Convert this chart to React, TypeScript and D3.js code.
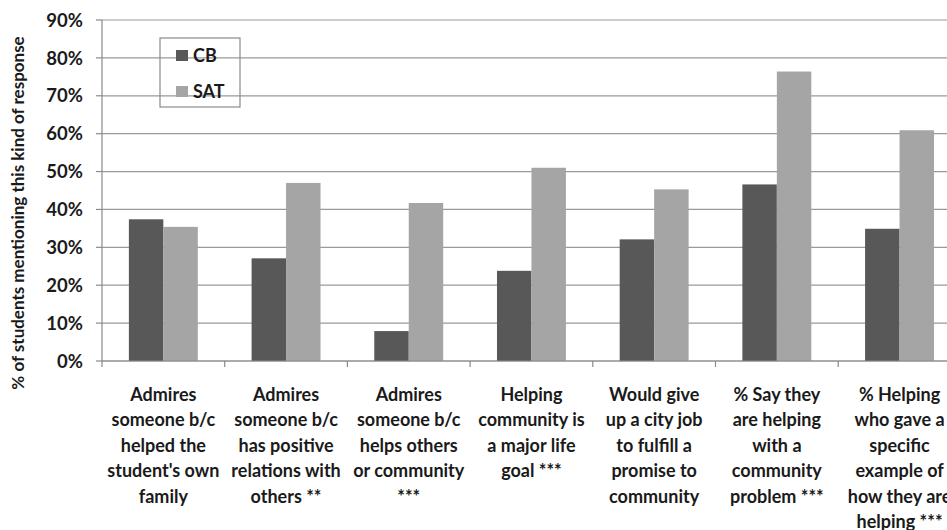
import React from "react";
import * as d3 from "d3";

const categories: string[][] = [
  ["Admires", "someone b/c", "helped the", "student's own", "family"],
  ["Admires", "someone b/c", "has positive", "relations with", "others **"],
  ["Admires", "someone b/c", "helps others", "or community", "***"],
  ["Helping", "community is", "a major life", "goal ***"],
  ["Would give", "up a city job", "to fulfill a", "promise to", "community"],
  ["% Say they", "are helping", "with a", "community", "problem ***"],
  ["% Helping", "who gave a", "specific", "example of", "how they are", "helping ***"],
];
const seriesNames = ["CB", "SAT"];
const cbValues = [37.4, 27.1, 7.9, 23.8, 32.1, 46.6, 34.9];
const satValues = [35.4, 47.0, 41.7, 51.0, 45.3, 76.4, 60.9];
const yTicks = [0, 10, 20, 30, 40, 50, 60, 70, 80, 90];
const colors = ["#585858", "#a5a5a5"];

const W = 947;
const H = 530;
const FONT = "Lato, 'Open Sans', sans-serif";

export default function App() {
  const left = 102;
  const step = 122.7;
  const right = left + step * categories.length;
  const top = 20;
  const bottom = 361;

  const idx = categories.map((_, i) => String(i));
  const x0 = d3.scaleBand().domain(idx).range([left, right]).padding(0);
  const x1 = d3
    .scaleBand()
    .domain(seriesNames)
    .range([0, x0.bandwidth()])
    .paddingInner(0)
    .paddingOuter(0.78);
  const y = d3.scaleLinear().domain([0, 90]).range([bottom, top]);
  const series = [cbValues, satValues];

  return (
    <svg
      width={W}
      height={H}
      style={{ position: "absolute", left: 0, top: 0, background: "#fff", overflow: "hidden" }}
      fontFamily={FONT}
    >
      <rect x={0} y={0} width={W} height={H} fill="#fff" />
      {yTicks.map((t) => (
        <line key={t} x1={left} x2={right} y1={y(t)} y2={y(t)} stroke="#9a9a9a" strokeWidth={1.2} />
      ))}
      {yTicks.map((t) => (
        <g key={"yt" + t}>
          <line x1={96} x2={left} y1={y(t)} y2={y(t)} stroke="#8a8a8a" strokeWidth={1.2} />
          <text x={83} y={y(t)} dy="0.36em" textAnchor="end" fontSize={18.5} fontWeight={700} fill="#1a1a1a">
            {t}%
          </text>
        </g>
      ))}
      {series.map((vals, s) =>
        vals.map((v, i) => (
          <rect
            key={s + "-" + i}
            x={(x0(String(i)) as number) + (x1(seriesNames[s]) as number)}
            y={y(v)}
            width={x1.bandwidth()}
            height={y(0) - y(v)}
            fill={colors[s]}
          />
        ))
      )}
      <line x1={left} x2={left} y1={top} y2={bottom} stroke="#8a8a8a" strokeWidth={1.2} />
      <line x1={left} x2={right} y1={bottom} y2={bottom} stroke="#8a8a8a" strokeWidth={1.2} />
      {d3.range(categories.length + 1).map((i) => (
        <line key={"xt" + i} x1={left + i * step} x2={left + i * step} y1={bottom} y2={bottom + 6} stroke="#8a8a8a" strokeWidth={1.2} />
      ))}
      {categories.map((lines, i) => {
        const cx = (x0(String(i)) as number) + x0.bandwidth() / 2;
        return (
          <text key={"xl" + i} x={cx} y={401} textAnchor="middle" fontSize={18} fontWeight={700} fill="#1a1a1a">
            {lines.map((ln, j) => (
              <tspan key={j} x={cx} dy={j === 0 ? 0 : 25.4}>
                {ln}
              </tspan>
            ))}
          </text>
        );
      })}
      <text
        transform={`translate(24,${213}) rotate(-90)`}
        textAnchor="middle"
        fontSize={17}
        fontWeight={700}
        fill="#1a1a1a"
      >
        % of students mentioning this kind of response
      </text>
      <rect x={160} y={38} width={80} height={69} fill="none" stroke="#8a8a8a" strokeWidth={1.2} />
      {seriesNames.map((n, i) => (
        <g key={"lg" + n}>
          <rect x={176} y={50 + i * 36} width={12} height={11} fill={colors[i]} />
          <text x={193} y={55.5 + i * 36} dy="0.36em" fontSize={18} fontWeight={700} fill="#1a1a1a">
            {n}
          </text>
        </g>
      ))}
    </svg>
  );
}
